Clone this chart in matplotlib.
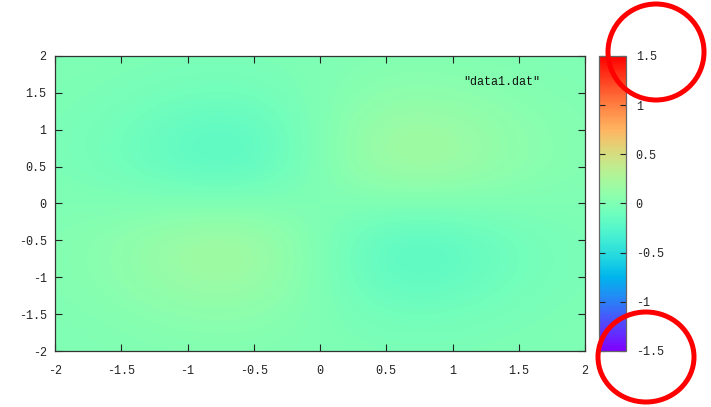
import numpy as np
import matplotlib.pyplot as plt
from matplotlib.patches import Ellipse

grid_x = [-2, -1.5, -1, -0.5, 0, 0.5, 1, 1.5, 2]
grid_y = [2, 1.5, 1, 0.5, 0, -0.5, -1, -1.5, -2]

# values, one row per y (top row y=2), one column per x
z_rows = [
    [-0.002, -0.008, -0.018, -0.019, 0, 0.019, 0.018, 0.008, 0.002],
    [-0.008, -0.032, -0.076, -0.080, 0, 0.080, 0.076, 0.032, 0.008],
    [-0.018, -0.076, -0.176, -0.186, 0, 0.186, 0.176, 0.076, 0.018],
    [-0.019, -0.080, -0.186, -0.197, 0, 0.197, 0.186, 0.080, 0.019],
    [0, 0, 0, 0, 0, 0, 0, 0, 0],
    [0.019, 0.080, 0.186, 0.197, 0, -0.197, -0.186, -0.080, -0.019],
    [0.018, 0.076, 0.176, 0.186, 0, -0.186, -0.176, -0.076, -0.018],
    [0.008, 0.032, 0.076, 0.080, 0, -0.080, -0.076, -0.032, -0.008],
    [0.002, 0.008, 0.018, 0.019, 0, -0.019, -0.018, -0.008, -0.002],
]

ticks = [-2, -1.5, -1, -0.5, 0, 0.5, 1, 1.5, 2]
cb_ticks = [-1.5, -1, -0.5, 0, 0.5, 1, 1.5]
zmin, zmax = -1.5, 1.5

plt.rcParams['font.family'] = ['Liberation Mono', 'DejaVu Sans Mono']
plt.rcParams['font.size'] = 8.5

fig = plt.figure(figsize=(7.11, 4.07), dpi=100)
ax = fig.add_axes([55/711, 1-351/407, 530/711, 295/407])
cax = fig.add_axes([599/711, 1-351/407, 27/711, 295/407])

z = np.array(z_rows)
half = 0.25  # half a grid step, so pixel centres sit on the grid points
im = ax.imshow(z, cmap='rainbow', vmin=zmin, vmax=zmax, interpolation='bicubic',
               extent=[grid_x[0]-half, grid_x[-1]+half, grid_y[-1]-half, grid_y[0]+half],
               aspect='auto', origin='upper')
ax.set_xlim(-2, 2)
ax.set_ylim(-2, 2)
ax.set_xticks(ticks)
ax.set_yticks(ticks)
ax.set_xticklabels([f'{t:g}' for t in ticks])
ax.set_yticklabels([f'{t:g}' for t in ticks])
ax.tick_params(direction='in', top=True, right=True, length=5, width=0.8,
               color='#222222', labelcolor='#222222', pad=6)
ax.tick_params(axis='x', pad=10)
for s in ax.spines.values():
    s.set_linewidth(0.9)
    s.set_color('#333333')

ax.text(0.843, 0.912, '"data1.dat"', transform=ax.transAxes, ha='center', va='center',
        fontsize=8.5, color='#111111')

cb = fig.colorbar(im, cax=cax, ticks=cb_ticks)
cb.ax.set_yticklabels([f'{t:g}' for t in cb_ticks])
cb.ax.tick_params(direction='in', left=True, right=True, length=4, width=0.8,
                  color='#222222', labelcolor='#222222', pad=7)
cb.outline.set_edgecolor('#666666')
cb.outline.set_linewidth(0.9)

# red highlight circles around the colorbar end labels
for cx, cy, w, h in [(656, 52, 96, 96), (646, 357, 96, 90)]:
    fig.patches.append(Ellipse((cx/711, 1-cy/407), w/711, h/407, transform=fig.transFigure,
                               fill=False, edgecolor='#ff0000', linewidth=3.6, zorder=10))

fig.savefig('out.png', dpi=100)
